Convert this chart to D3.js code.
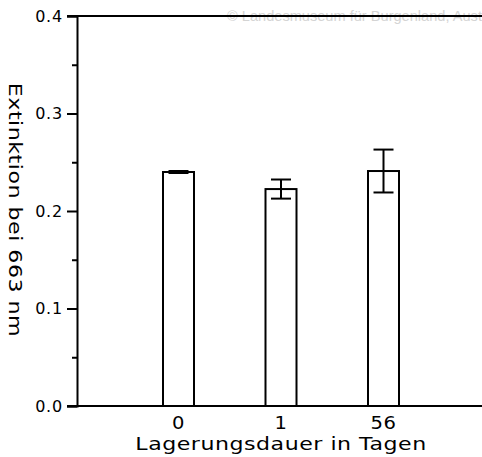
<!DOCTYPE html>
<html>
<head>
<meta charset="utf-8">
<script src="https://cdn.jsdelivr.net/npm/d3@7"></script>
<style>
  html, body { margin: 0; padding: 0; background: #fff; }
  svg { display: block; }
  text { font-family: "DejaVu Sans", sans-serif; fill: #000; }
</style>
</head>
<body>
<svg id="chart" width="482" height="457"></svg>
<script>
const categories = ["0", "1", "56"];
const values = [0.240, 0.2225, 0.241];
const errors = [0.001, 0.0098, 0.022];
const yTicks = [0.0, 0.1, 0.2, 0.3, 0.4];
const yMinorTicks = [0.05, 0.15, 0.25, 0.35];
const xTitle = "Lagerungsdauer in Tagen";
const yTitle = "Extinktion bei 663 nm";
const watermark = "© Landesmuseum für Burgenland, Austria";

(function () {
const svg = d3.select("#chart");
const W = 482;
const axisX = 77, plotTop = 16, plotBottom = 406;
const barW = 31;

const x = d3.scalePoint().domain(categories).range([178.5, 383.5]);
const y = d3.scaleLinear().domain([0, 0.4]).range([plotBottom, plotTop]);

// watermark (cut off at the right edge, as in the original)
svg.append("text")
  .attr("x", 227).attr("y", 21)
  .style("font-family", "'Liberation Sans', Arial, sans-serif")
  .style("font-size", "14.6px")
  .style("fill", "#d4d4d4")
  .text(watermark);

// top and bottom frame lines
svg.append("line").attr("x1", 67).attr("x2", W).attr("y1", y(0.4)).attr("y2", y(0.4))
  .attr("stroke", "#000").attr("stroke-width", 2);
svg.append("line").attr("x1", 67).attr("x2", W).attr("y1", y(0)).attr("y2", y(0))
  .attr("stroke", "#000").attr("stroke-width", 2);

// y axis
const yAxis = d3.axisLeft(y).tickValues(yTicks).tickSize(10).tickPadding(4)
  .tickFormat(d3.format(".1f"));
const gy = svg.append("g").attr("transform", `translate(${axisX},0)`).call(yAxis);
gy.select(".domain").attr("stroke", "#000").attr("stroke-width", 2);
gy.selectAll(".tick line").attr("stroke", "#000").attr("stroke-width", 2);
gy.selectAll(".tick text")
  .style("font-family", "'DejaVu Sans', sans-serif")
  .style("font-size", "16px").style("letter-spacing", "0.8px");

const yMinor = d3.axisLeft(y).tickValues(yMinorTicks).tickSize(5).tickFormat("");
const gym = svg.append("g").attr("transform", `translate(${axisX},0)`).call(yMinor);
gym.select(".domain").remove();
gym.selectAll(".tick line").attr("stroke", "#000").attr("stroke-width", 2);

// bars
svg.append("g").selectAll("rect").data(categories).join("rect")
  .attr("x", d => x(d) - barW / 2)
  .attr("y", (d, i) => y(values[i]))
  .attr("width", barW)
  .attr("height", (d, i) => y(0) - y(values[i]))
  .attr("fill", "#fff").attr("stroke", "#000").attr("stroke-width", 2);

// error bars
const eg = svg.append("g").attr("stroke", "#000").attr("stroke-width", 2);
categories.forEach((c, i) => {
  const cx = x(c);
  const hi = y(values[i] + errors[i]);
  const lo = y(values[i] - errors[i]);
  eg.append("line").attr("x1", cx).attr("x2", cx).attr("y1", hi).attr("y2", lo);
  eg.append("line").attr("x1", cx - 10).attr("x2", cx + 10).attr("y1", hi).attr("y2", hi);
  eg.append("line").attr("x1", cx - 10).attr("x2", cx + 10).attr("y1", lo).attr("y2", lo);
});

// x category labels (wide plotter-style glyphs)
svg.append("g").selectAll("text").data(categories).join("text")
  .attr("transform", d => `translate(${x(d)},429) scale(1.15,1)`)
  .attr("text-anchor", "middle")
  .style("font-size", "17px").style("letter-spacing", "0.5px")
  .text(d => d);

// x title
svg.append("text")
  .attr("transform", "translate(281,450) scale(1.3,1)")
  .attr("text-anchor", "middle")
  .style("font-size", "17px").style("letter-spacing", "0.4px")
  .text(xTitle);

// y title
svg.append("text")
  .attr("transform", "translate(9,210) rotate(90) scale(1.3,1)")
  .attr("text-anchor", "middle")
  .style("font-size", "17px").style("letter-spacing", "0.4px")
  .text(yTitle);
})();
</script>
</body>
</html>
